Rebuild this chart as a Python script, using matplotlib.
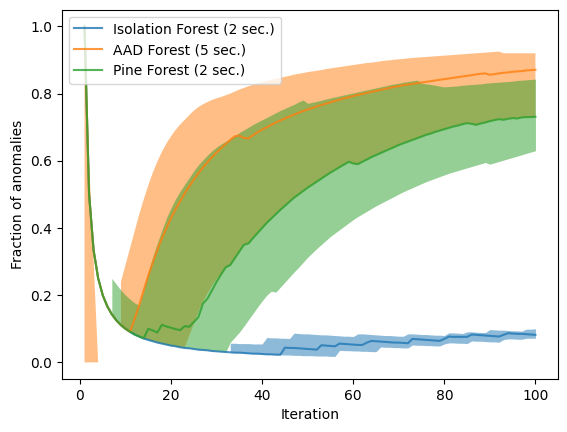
import numpy as np
import matplotlib
matplotlib.use('Agg')
import matplotlib.pyplot as plt

nan = np.nan

iterations = list(range(1, 101))

labels = ["Isolation Forest (2 sec.)", "AAD Forest (5 sec.)", "Pine Forest (2 sec.)"]

# Isolation Forest
iforest_mean = [
    1.0, 0.5, 0.333, 0.25, 0.2, 0.167, 0.143, 0.125, 0.111, 0.1,
    0.091, 0.083, 0.077, 0.071, 0.067, 0.063, 0.059, 0.056, 0.053, 0.05,
    0.048, 0.045, 0.043, 0.042, 0.04, 0.038, 0.037, 0.036, 0.034, 0.033,
    0.032, 0.031, 0.03, 0.029, 0.029, 0.028, 0.027, 0.026, 0.026, 0.025,
    0.024, 0.024, 0.023, 0.023, 0.044, 0.043, 0.043, 0.042, 0.041, 0.04,
    0.039, 0.038, 0.051, 0.05, 0.049, 0.048, 0.056, 0.055, 0.054, 0.053,
    0.052, 0.052, 0.059, 0.064, 0.063, 0.062, 0.061, 0.06, 0.059, 0.059,
    0.058, 0.057, 0.07, 0.069, 0.068, 0.067, 0.066, 0.065, 0.064, 0.07,
    0.077, 0.076, 0.076, 0.076, 0.076, 0.083, 0.082, 0.081, 0.08, 0.079,
    0.078, 0.077, 0.082, 0.087, 0.086, 0.085, 0.085, 0.084, 0.083, 0.082,
]
iforest_lo = [
    nan, nan, nan, nan, nan, nan, nan, nan, nan, nan,
    nan, nan, nan, nan, nan, nan, nan, nan, nan, nan,
    nan, nan, nan, nan, nan, nan, nan, nan, nan, nan,
    nan, nan, 0.03, 0.029, 0.029, 0.028, 0.027, 0.026, 0.026, 0.025,
    0.024, 0.024, 0.023, 0.023, 0.022, 0.022, 0.021, 0.021, 0.02, 0.02,
    0.02, 0.019, 0.019, 0.019, 0.018, 0.018, 0.036, 0.035, 0.035, 0.034,
    0.034, 0.033, 0.033, 0.032, 0.032, 0.046, 0.045, 0.045, 0.044, 0.044,
    0.043, 0.043, 0.052, 0.051, 0.051, 0.05, 0.05, 0.049, 0.049, 0.055,
    0.058, 0.058, 0.057, 0.057, 0.056, 0.064, 0.063, 0.063, 0.062, 0.061,
    0.061, 0.06, 0.068, 0.07, 0.07, 0.069, 0.069, 0.072, 0.072, 0.072,
]
iforest_hi = [
    nan, nan, nan, nan, nan, nan, nan, nan, nan, nan,
    nan, nan, nan, nan, nan, nan, nan, nan, nan, nan,
    nan, nan, nan, nan, nan, nan, nan, nan, nan, nan,
    nan, nan, 0.057, 0.057, 0.056, 0.056, 0.056, 0.055, 0.055, 0.055,
    0.074, 0.073, 0.073, 0.072, 0.072, 0.071, 0.087, 0.086, 0.085, 0.085,
    0.084, 0.083, 0.082, 0.082, 0.081, 0.08, 0.079, 0.078, 0.078, 0.077,
    0.085, 0.085, 0.084, 0.083, 0.082, 0.081, 0.08, 0.08, 0.079, 0.078,
    0.078, 0.085, 0.085, 0.084, 0.083, 0.083, 0.082, 0.081, 0.081, 0.08,
    0.088, 0.088, 0.087, 0.086, 0.091, 0.091, 0.09, 0.089, 0.089, 0.098,
    0.097, 0.096, 0.096, 0.095, 0.094, 0.094, 0.093, 0.099, 0.099, 0.1,
]

# AAD Forest
aad_mean = [
    1.0, 0.5, 0.333, 0.25, 0.2, 0.167, 0.143, 0.125, 0.111, 0.1,
    0.091, 0.13, 0.17, 0.215, 0.258, 0.298, 0.335, 0.37, 0.4, 0.43,
    0.456, 0.48, 0.503, 0.524, 0.544, 0.563, 0.58, 0.596, 0.611, 0.625,
    0.638, 0.65, 0.662, 0.673, 0.675, 0.668, 0.667, 0.676, 0.685, 0.693,
    0.7, 0.707, 0.714, 0.72, 0.726, 0.732, 0.737, 0.743, 0.748, 0.753,
    0.757, 0.762, 0.766, 0.77, 0.774, 0.778, 0.782, 0.786, 0.789, 0.793,
    0.796, 0.799, 0.802, 0.805, 0.808, 0.811, 0.814, 0.817, 0.82, 0.822,
    0.825, 0.827, 0.829, 0.831, 0.833, 0.835, 0.837, 0.839, 0.841, 0.843,
    0.845, 0.847, 0.849, 0.851, 0.853, 0.855, 0.857, 0.859, 0.86, 0.856,
    0.858, 0.86, 0.862, 0.863, 0.865, 0.866, 0.867, 0.869, 0.87, 0.871,
]
aad_lo = [
    0.0, 0.0, 0.0, 0.0, nan, nan, nan, nan, 0.111, 0.1,
    0.091, 0.083, 0.077, 0.071, 0.067, 0.063, 0.059, 0.056, 0.053, 0.05,
    0.048, 0.045, 0.045, 0.08, 0.115, 0.15, 0.18, 0.205, 0.228, 0.248,
    0.262, 0.283, 0.29, 0.31, 0.33, 0.35, 0.354, 0.37, 0.385, 0.4,
    0.415, 0.428, 0.441, 0.454, 0.466, 0.478, 0.49, 0.5, 0.51, 0.52,
    0.529, 0.538, 0.547, 0.556, 0.565, 0.573, 0.581, 0.589, 0.597, 0.592,
    0.59, 0.597, 0.604, 0.611, 0.617, 0.623, 0.629, 0.635, 0.641, 0.647,
    0.652, 0.657, 0.662, 0.667, 0.672, 0.677, 0.681, 0.686, 0.69, 0.694,
    0.698, 0.702, 0.705, 0.709, 0.712, 0.71, 0.707, 0.711, 0.714, 0.718,
    0.721, 0.724, 0.722, 0.725, 0.727, 0.726, 0.729, 0.73, 0.73, 0.731,
]
aad_hi = [
    1.0, 0.6, 0.3, 0.0, nan, nan, nan, nan, 0.24, 0.29,
    0.34, 0.39, 0.44, 0.485, 0.527, 0.565, 0.598, 0.627, 0.652, 0.673,
    0.692, 0.708, 0.722, 0.736, 0.749, 0.76, 0.768, 0.775, 0.781, 0.786,
    0.79, 0.795, 0.8, 0.806, 0.812, 0.817, 0.822, 0.826, 0.83, 0.834,
    0.838, 0.841, 0.844, 0.847, 0.85, 0.853, 0.856, 0.859, 0.861, 0.864,
    0.866, 0.868, 0.87, 0.873, 0.875, 0.877, 0.879, 0.881, 0.883, 0.885,
    0.887, 0.889, 0.891, 0.892, 0.894, 0.896, 0.898, 0.899, 0.901, 0.902,
    0.903, 0.905, 0.906, 0.907, 0.908, 0.909, 0.91, 0.911, 0.912, 0.913,
    0.914, 0.915, 0.916, 0.917, 0.918, 0.919, 0.92, 0.921, 0.922, 0.923,
    0.924, 0.925, 0.92, 0.92, 0.92, 0.92, 0.92, 0.92, 0.92, 0.92,
]

# Pine Forest
pine_mean = [
    1.0, 0.5, 0.333, 0.25, 0.2, 0.167, 0.143, 0.125, 0.111, 0.1,
    0.091, 0.083, 0.077, 0.072, 0.1, 0.095, 0.089, 0.112, 0.107, 0.103,
    0.099, 0.096, 0.108, 0.106, 0.12, 0.135, 0.175, 0.19, 0.215, 0.24,
    0.262, 0.283, 0.29, 0.31, 0.33, 0.35, 0.354, 0.37, 0.385, 0.4,
    0.415, 0.428, 0.441, 0.454, 0.466, 0.478, 0.49, 0.5, 0.51, 0.52,
    0.529, 0.538, 0.547, 0.556, 0.565, 0.573, 0.581, 0.589, 0.597, 0.592,
    0.59, 0.597, 0.604, 0.611, 0.617, 0.623, 0.629, 0.635, 0.641, 0.647,
    0.652, 0.657, 0.662, 0.667, 0.672, 0.677, 0.681, 0.686, 0.69, 0.694,
    0.698, 0.702, 0.705, 0.709, 0.712, 0.71, 0.707, 0.711, 0.714, 0.718,
    0.721, 0.724, 0.722, 0.725, 0.727, 0.726, 0.729, 0.73, 0.73, 0.731,
]
pine_lo = [
    nan, nan, nan, nan, nan, nan, 0.143, 0.125, 0.111, 0.1,
    0.091, 0.083, 0.077, 0.071, 0.067, 0.063, 0.059, 0.056, 0.053, 0.05,
    0.048, 0.045, 0.043, 0.042, 0.04, 0.038, 0.037, 0.036, 0.034, 0.033,
    0.032, 0.031, 0.06, 0.075, 0.09, 0.108, 0.127, 0.146, 0.165, 0.183,
    0.2, 0.212, 0.209, 0.224, 0.239, 0.254, 0.269, 0.283, 0.298, 0.313,
    0.326, 0.339, 0.351, 0.363, 0.375, 0.385, 0.395, 0.405, 0.415, 0.425,
    0.434, 0.442, 0.45, 0.458, 0.466, 0.473, 0.48, 0.487, 0.494, 0.501,
    0.508, 0.514, 0.52, 0.526, 0.532, 0.538, 0.543, 0.548, 0.553, 0.558,
    0.563, 0.567, 0.571, 0.575, 0.579, 0.583, 0.587, 0.591, 0.595, 0.59,
    0.594, 0.598, 0.602, 0.606, 0.61, 0.614, 0.618, 0.622, 0.626, 0.63,
]
pine_hi = [
    nan, nan, nan, nan, nan, nan, 0.25, 0.232, 0.215, 0.2,
    0.188, 0.177, 0.17, 0.215, 0.27, 0.315, 0.356, 0.394, 0.43, 0.46,
    0.487, 0.51, 0.53, 0.55, 0.57, 0.588, 0.603, 0.617, 0.63, 0.641,
    0.65, 0.658, 0.666, 0.675, 0.684, 0.692, 0.7, 0.708, 0.715, 0.722,
    0.729, 0.736, 0.743, 0.75, 0.756, 0.762, 0.768, 0.775, 0.781, 0.771,
    0.774, 0.777, 0.78, 0.784, 0.787, 0.79, 0.793, 0.796, 0.799, 0.802,
    0.805, 0.808, 0.811, 0.814, 0.817, 0.82, 0.823, 0.826, 0.829, 0.831,
    0.834, 0.836, 0.838, 0.84, 0.831, 0.829, 0.827, 0.825, 0.822, 0.82,
    0.821, 0.822, 0.823, 0.825, 0.826, 0.827, 0.828, 0.829, 0.831, 0.832,
    0.833, 0.834, 0.835, 0.836, 0.837, 0.839, 0.84, 0.841, 0.842, 0.843,
]

series = [
    (iforest_mean, iforest_lo, iforest_hi),
    (aad_mean, aad_lo, aad_hi),
    (pine_mean, pine_lo, pine_hi),
]

fig = plt.figure(figsize=(5.67, 4.32), dpi=100)
ax = fig.add_axes([0.1093, 0.1222, 0.8748, 0.8556])

x = np.array(iterations)
for i, (label, (mean, lo, hi)) in enumerate(zip(labels, series)):
    color = f'C{i}'
    ax.plot(x, mean, color=color, alpha=0.8, label=label)
    ax.fill_between(x, np.array(lo), np.array(hi), color=color, alpha=0.5, linewidth=0)

ax.set_xlabel('Iteration')
ax.set_ylabel('Fraction of anomalies')
ax.legend(loc='upper left')

fig.savefig('out.png', dpi=100)
